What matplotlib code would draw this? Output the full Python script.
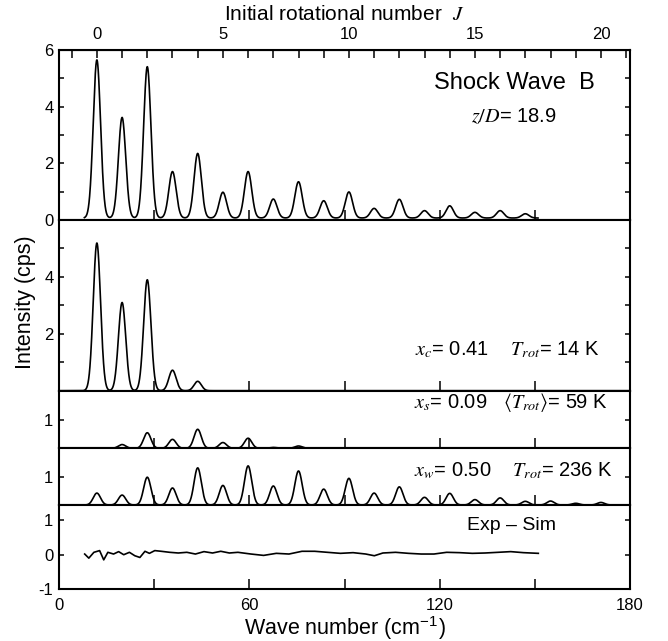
# imports
import numpy as np
import matplotlib
matplotlib.use('Agg')
import matplotlib.pyplot as plt
from matplotlib.ticker import MultipleLocator, FixedLocator


# fonts
plt.rcParams['font.family'] = ['Liberation Sans', 'DejaVu Sans']
plt.rcParams['mathtext.fontset'] = 'stix'
plt.rcParams['axes.unicode_minus'] = False


# static params
nu0 = 11.94       # [cm-1] position of J=0 line (6B)
dnu = 7.945       # [cm-1] line spacing (4B)
sigma = 1.15      # [cm-1] line width
exp_lo, exp_hi = 8.0, 151.0   # measured range
exp_base = 0.07   # baseline offset of measured spectrum

# peak heights per initial J
exp_peaks = [5.65, 3.62, 5.41, 1.71, 2.35, 0.98, 1.71, 0.74, 1.35, 0.68,
             0.99, 0.41, 0.73, 0.33, 0.50, 0.27, 0.33, 0.22]
xc_peaks = [5.19, 3.10, 3.90, 0.72, 0.33]
xs_peaks = [0.0, 0.13, 0.54, 0.31, 0.66, 0.20, 0.35, 0.03, 0.08]
xw_peaks = [0.42, 0.35, 0.98, 0.60, 1.31, 0.69, 1.38, 0.67, 1.20, 0.56,
            0.94, 0.42, 0.64, 0.27, 0.41, 0.19, 0.25, 0.13, 0.14, 0.06, 0.09]

# residual (Exp - Sim)
res_wn = [8.1, 9.4, 11.0, 12.8, 14.1, 15.4, 17.2, 18.8, 20.4, 22.2, 23.9,
          25.5, 27.1, 28.5, 30.2, 32.2, 34.9, 37.6, 40.3, 43.0, 45.7, 48.4,
          51.0, 53.7, 56.4, 60.5, 64.5, 68.5, 72.5, 76.6, 80.6, 84.6, 88.7,
          92.7, 96.7, 99.4, 102.1, 106.1, 110.2, 114.2, 118.2, 122.2, 126.3,
          130.3, 134.3, 138.4, 142.4, 146.4, 151.1]
res_val = [0.02, -0.10, 0.07, 0.12, -0.15, 0.07, 0.02, 0.09, 0.00, 0.07,
           -0.03, -0.08, 0.10, 0.04, 0.12, 0.10, 0.07, 0.05, 0.07, 0.02,
           0.09, 0.05, 0.10, 0.05, 0.07, 0.02, -0.02, 0.04, 0.02, 0.10,
           0.10, 0.07, 0.04, 0.06, 0.02, -0.03, 0.05, 0.07, 0.04, 0.02,
           0.02, 0.07, 0.06, 0.04, 0.05, 0.07, 0.09, 0.06, 0.04]


def spectrum(nu_ra, peaks, base=0.0):
    '''sum of gaussian lines at the S-branch positions'''
    out_ra = np.zeros_like(nu_ra)
    for J, h in enumerate(peaks):
        out_ra += (h - base) * np.exp(-0.5 * ((nu_ra - (nu0 + dnu*J))/sigma)**2)
    return out_ra + base


# generating
nu_ra = np.linspace(0, 180, 3601)
nuexp_ra = nu_ra[(nu_ra >= exp_lo) & (nu_ra <= exp_hi)]

fig = plt.figure(figsize=(6.68, 6.41), dpi=100)
gs = fig.add_gridspec(5, 1, height_ratios=[170, 170.7, 57.6, 56.7, 84],
                      left=59/668, right=630/668, top=1-50/641,
                      bottom=1-589/641, hspace=0)
axs = [fig.add_subplot(gs[i]) for i in range(5)]

lw = 1.2
axs[0].plot(nuexp_ra, spectrum(nuexp_ra, exp_peaks, exp_base), 'k-', lw=lw)
axs[1].plot(nu_ra, spectrum(nu_ra, xc_peaks), 'k-', lw=lw)
axs[2].plot(nu_ra, spectrum(nu_ra, xs_peaks), 'k-', lw=lw)
axs[3].plot(nu_ra, spectrum(nu_ra, xw_peaks), 'k-', lw=lw)
axs[4].plot(res_wn, res_val, 'k-', lw=lw)

ylims = [(0, 6), (0, 6), (0, 2), (0, 2), (-1, 1.45)]
ylabs = [[0, 2, 4, 6], [2, 4], [1], [1], [-1, 0, 1]]
for ax, yl, yt in zip(axs, ylims, ylabs):
    ax.set_xlim(0, 180)
    ax.set_ylim(*yl)
    ax.yaxis.set_major_locator(FixedLocator(yt))
    ax.yaxis.set_minor_locator(MultipleLocator(1))
    ax.xaxis.set_major_locator(MultipleLocator(60))
    ax.xaxis.set_minor_locator(MultipleLocator(30))
    ax.tick_params(which='both', direction='in', top=False, right=True,
                   labelsize=12, width=1.1)
    ax.tick_params(axis='x', which='both', length=7, pad=6.5)
    ax.tick_params(axis='y', which='both', length=3.8, pad=4)
    for s in ax.spines.values():
        s.set_linewidth(1.5)
    if ax is not axs[4]:
        ax.tick_params(axis='x', labelbottom=False)

axs[4].set_xlabel('Wave number (cm$^{\\mathregular{-1}}$)', fontsize=15.5,
                  labelpad=1)
fig.text(26/668, 1-302/641, 'Intensity (cps)', rotation=90, fontsize=15.5,
         ha='center', va='center')

# top axis: initial rotational number
sec = axs[0].secondary_xaxis('top', functions=(lambda x: (x - nu0)/dnu,
                                               lambda J: nu0 + dnu*J))
sec.set_xticks([0, 5, 10, 15, 20])
sec.xaxis.set_minor_locator(MultipleLocator(1))
sec.tick_params(which='both', direction='in', length=5.5, width=1.1,
                labelsize=12, pad=6)
sec.set_xlabel('Initial rotational number  $J$', fontsize=15, labelpad=5)

# annotations
axs[0].text(0.939, 0.806, 'Shock Wave  B', transform=axs[0].transAxes,
            ha='right', va='center', fontsize=17)
axs[0].text(0.872, 0.606, '$z/D$= 18.9', transform=axs[0].transAxes,
            ha='right', va='center', fontsize=14.5)
axs[1].text(0.947, 0.238, '$x_c$= 0.41    $T_{rot}$= 14 K',
            transform=axs[1].transAxes, ha='right', va='center', fontsize=14.5)
axs[2].text(0.961, 0.80, '$x_s$= 0.09   $\\langle T_{rot}\\rangle$= 59 K',
            transform=axs[2].transAxes, ha='right', va='center', fontsize=14.5)
axs[3].text(0.970, 0.60, '$x_w$= 0.50    $T_{rot}$= 236 K',
            transform=axs[3].transAxes, ha='right', va='center', fontsize=14.5)
axs[4].text(0.793, 0.75, 'Exp \u2013 Sim', transform=axs[4].transAxes,
            ha='center', va='center', fontsize=14)

fig.savefig('out.png', dpi=100)
